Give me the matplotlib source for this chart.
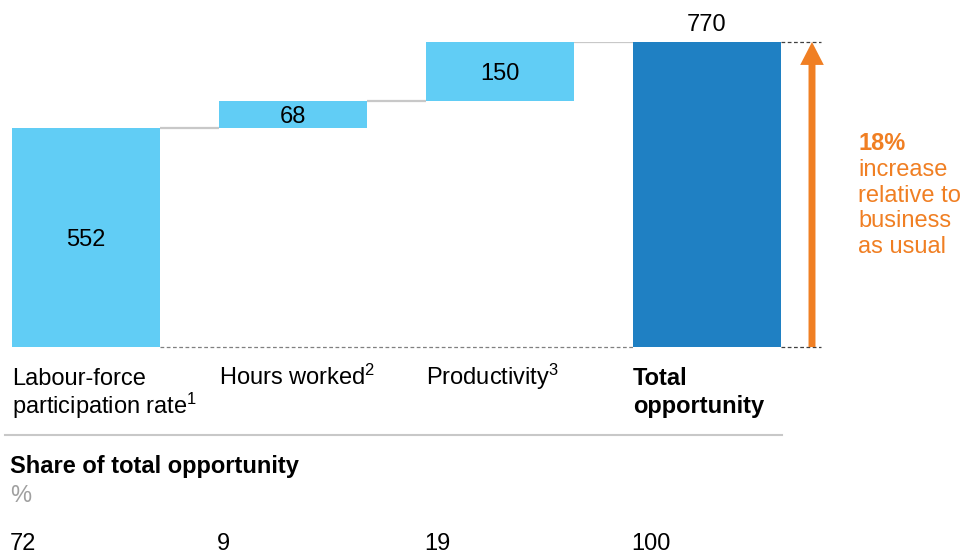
"""Waterfall of the GDP opportunity by driver."""

import matplotlib

matplotlib.use("Agg")
import matplotlib.pyplot as plt

plt.rcParams["font.family"] = ["Liberation Sans", "DejaVu Sans"]
plt.rcParams["mathtext.default"] = "regular"

# data
categories = [
    ["Labour-force", "participation rate$^1$"],
    ["Hours worked$^2$"],
    ["Productivity$^3$"],
    ["Total", "opportunity"],
]
values = [552, 68, 150, 770]
shares = ["72", "9", "19", "100"]
uplift_lines = ["18%", "increase", "relative to", "business", "as usual"]

LIGHT = "#61CDF5"
DARK = "#1F80C3"
ORANGE = "#F07F23"
W, H = 965, 555
FS = 17


def fy(px):
    """pixel row from top -> figure fraction"""
    return 1 - px / H


fig = plt.figure(figsize=(W / 100, H / 100), dpi=100)
# axes spans the whole width; y from 0 (px 347) to 770 (px 42)
ax = fig.add_axes([0, (H - 347) / H, 1, (347 - 42) / H])
step = 207
x0 = 86
ax.set_xlim(-x0 / step, (W - x0) / step)
ax.set_ylim(0, values[-1])
ax.axis("off")

width = 148 / step
bottoms = []
run = 0
for i, v in enumerate(values):
    if i == len(values) - 1:
        bottoms.append(0)
    else:
        bottoms.append(run)
        run += v

colors = [LIGHT] * (len(values) - 1) + [DARK]
ax.bar(range(len(values)), values, width=width, bottom=bottoms, color=colors,
       zorder=2, linewidth=0)

# connectors between bar tops
tops = [b + v for b, v in zip(bottoms, values)]
for i in range(len(values) - 1):
    ax.plot([i + width / 2, i + 1 - width / 2], [tops[i], tops[i]],
            color="#C8C8C8", lw=1.6, zorder=1, solid_capstyle="butt")

# dashed baseline
ax.plot([width / 2, 3 - width / 2], [0, 0], color="#808080", lw=0.9,
        ls=(0, (3, 2)), clip_on=False)
for yy in (0, values[-1]):
    ax.plot([3 + width / 2, 3.55], [yy, yy], color="#404040", lw=0.9,
            ls=(0, (3, 2)), clip_on=False)

# value labels (baseline positions in px)
label_base = [246, 123, 80, 31]
for i, v in enumerate(values):
    fig.text((x0 + i * step) / W, fy(label_base[i]), str(v), ha="center",
             va="baseline", fontsize=FS)

# uplift arrow
arr_x = (812 - x0) / step
ax.annotate("", xy=(arr_x, values[-1]), xytext=(arr_x, 0),
            arrowprops=dict(arrowstyle="simple,head_length=16.5,head_width=17,tail_width=5",
                            color=ORANGE, lw=0, mutation_scale=1,
                            shrinkA=0, shrinkB=0),
            annotation_clip=False)

for k, line in enumerate(uplift_lines):
    fig.text(858 / W, fy(150 + k * 25.8), line, color=ORANGE, fontsize=FS,
             fontweight="bold" if k == 0 else "normal", va="baseline", ha="left")

# category labels
for i, lines in enumerate(categories):
    left = (x0 + i * step - 74) / W
    for k, lab in enumerate(lines):
        fig.text(left, fy(385 + k * 28.5), lab, fontsize=FS, va="baseline",
                 ha="left",
                 fontweight="bold" if i == len(categories) - 1 else "normal")

# separator
fig.add_artist(plt.Line2D([5 / W, 782 / W], [fy(435), fy(435)],
                          color="#C8C8C8", lw=1.5))

fig.text(10 / W, fy(473), "Share of total opportunity", fontsize=FS,
         fontweight="bold", va="baseline", ha="left")
fig.text(10 / W, fy(502), "%", fontsize=FS, color="#A0A0A0",
         va="baseline", ha="left")

for i, s in enumerate(shares):
    left = (x0 + i * step - 76) / W
    fig.text(left, fy(550), s, fontsize=FS, va="baseline", ha="left")

fig.savefig("out.png", dpi=100)
